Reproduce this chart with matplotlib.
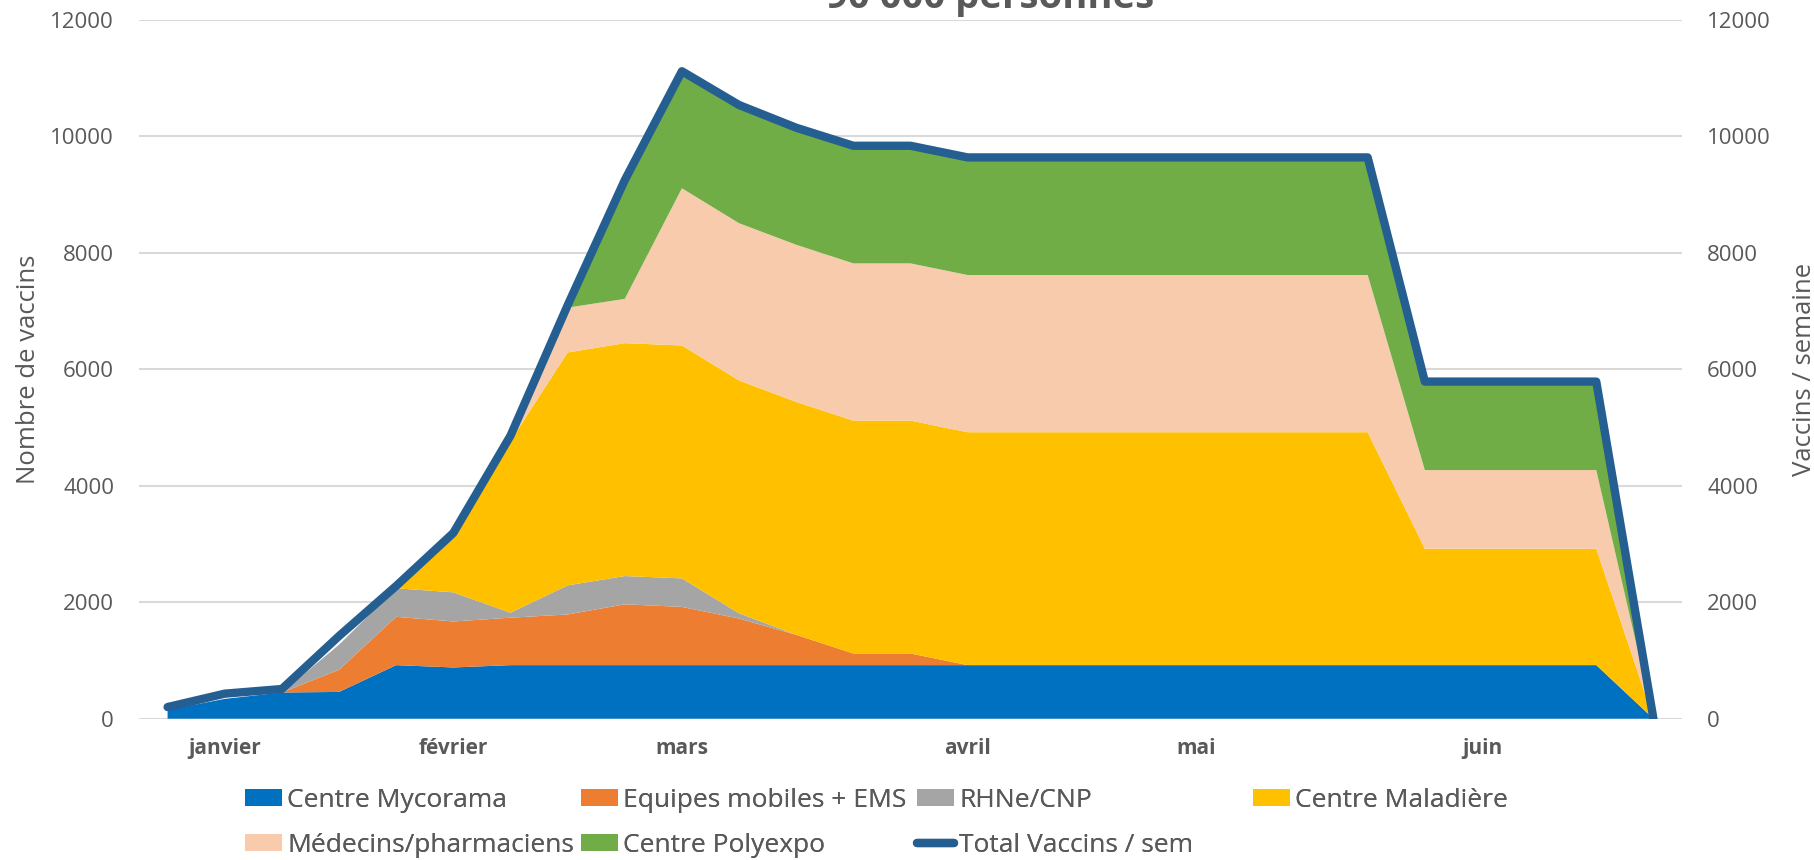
import matplotlib
matplotlib.use("Agg")
import matplotlib.pyplot as plt
from matplotlib.lines import Line2D
from matplotlib.patches import Patch

plt.rcParams['font.family'] = ['Open Sans', 'DejaVu Sans']

# weekly values
weeks = list(range(27))
month_pos = [1, 5, 9, 14, 18, 23]
months = ['janvier', 'février', 'mars', 'avril', 'mai', 'juin']

mycorama = [150, 340, 450, 460, 920, 880, 920, 920, 920, 920, 920, 920, 920, 920,
            920, 920, 920, 920, 920, 920, 920, 920, 920, 920, 920, 920, 0]
equipes = [0, 0, 0, 380, 830, 790, 815, 870, 1045, 1000, 800, 520, 200, 200,
           0, 0, 0, 0, 0, 0, 0, 0, 0, 0, 0, 0, 0]
rhne = [0, 0, 0, 430, 490, 500, 85, 500, 485, 490, 90, 0, 0, 0,
        0, 0, 0, 0, 0, 0, 0, 0, 0, 0, 0, 0, 0]
maladiere = [0, 0, 0, 0, 0, 960, 2950, 4000, 4000, 4000, 4000, 4000, 4000, 4000,
             4000, 4000, 4000, 4000, 4000, 4000, 4000, 4000, 2000, 2000, 2000, 2000, 0]
medecins = [0, 0, 0, 0, 0, 0, 0, 770, 760, 2700, 2700, 2700, 2700, 2700,
            2700, 2700, 2700, 2700, 2700, 2700, 2700, 2700, 1350, 1350, 1350, 1350, 0]
polyexpo = [0, 0, 0, 0, 0, 0, 0, 0, 2000, 2000, 2000, 2000, 2000, 2000,
            2000, 2000, 2000, 2000, 2000, 2000, 2000, 2000, 1500, 1500, 1500, 1500, 0]
total = [200, 430, 510, 1420, 2280, 3190, 4860, 7100, 9250, 11120, 10540, 10150, 9840, 9840,
         9640, 9640, 9640, 9640, 9640, 9640, 9640, 9640, 5790, 5790, 5790, 5790, 0]

labels = ['Centre Mycorama', 'Equipes mobiles + EMS', 'RHNe/CNP', 'Centre Maladière',
          'Médecins/pharmaciens', 'Centre Polyexpo']
colors = ['#0070C0', '#ED7D31', '#A5A5A5', '#FFC000', '#F8CBAD', '#70AD47']
line_color = '#255E91'
txt = '#595959'
W, H = 1814, 860

fig = plt.figure(figsize=(W / 100, H / 100), dpi=100)
ax = fig.add_axes([139 / W, 141.3 / H, 1543 / W, 698.7 / H])

ax.stackplot(weeks, mycorama, equipes, rhne, maladiere, medecins, polyexpo,
             colors=colors, linewidth=0, zorder=2)
ax.set_xlim(-0.5, 26.5)
ax.set_ylim(0, 12000)
ax.set_yticks(range(0, 12001, 2000))
ax.grid(axis='y', color='#D9D9D9', lw=1.5, zorder=0)
ax.set_axisbelow(True)
ax.set_xticks(month_pos)
ax.set_xticklabels(months, fontweight='bold', fontsize=15, color=txt)
ax.tick_params(axis='x', length=0, pad=14)
ax.tick_params(axis='y', length=0, pad=18, labelsize=16, labelcolor=txt)
for s in ax.spines.values():
    s.set_visible(False)
ax.set_ylabel('Nombre de vaccins', fontsize=18.5, color=txt)
ax.yaxis.set_label_coords(-0.0635, 0.5)

ax2 = ax.twinx()
ax2.plot(weeks, total, color=line_color, lw=6, solid_joinstyle='round',
         solid_capstyle='round')
ax2.set_ylim(0, 12000)
ax2.set_yticks(range(0, 12001, 2000))
ax2.tick_params(axis='y', length=0, pad=18, labelsize=16, labelcolor=txt)
for s in ax2.spines.values():
    s.set_visible(False)
ax2.set_ylabel('Vaccins / semaine', fontsize=18.5, color=txt, rotation=90)
ax2.yaxis.set_label_coords(1.0715, 0.5)

fig.text(990 / W, 1 - 8 / H, '90 000 personnes', ha='center', va='baseline',
         fontsize=27.5, fontweight='bold', color=txt)

# legend: four columns, laid out row by row like the original
patches = [Patch(facecolor=c, edgecolor='none') for c in colors]
tot_handle = Line2D([], [], color=line_color, lw=6, solid_capstyle='round')
columns = [
    ([patches[0], patches[4]], [labels[0], labels[4]], 245),
    ([patches[1], patches[5]], [labels[1], labels[5]], 581),
    ([patches[2], tot_handle], [labels[2], 'Total Vaccins / sem'], 917),
    ([patches[3]], [labels[3]], 1253),
]
for hs, ls, x in columns:
    leg = fig.legend(hs, ls, loc='upper left', bbox_to_anchor=(x / W, (H - 788) / H),
                     frameon=False, fontsize=19, borderpad=0, borderaxespad=0,
                     handlelength=1.4, handleheight=0.6, handletextpad=0.2,
                     labelspacing=0.74, labelcolor=txt)
    fig.add_artist(leg)

fig.savefig('out.png', dpi=100)
